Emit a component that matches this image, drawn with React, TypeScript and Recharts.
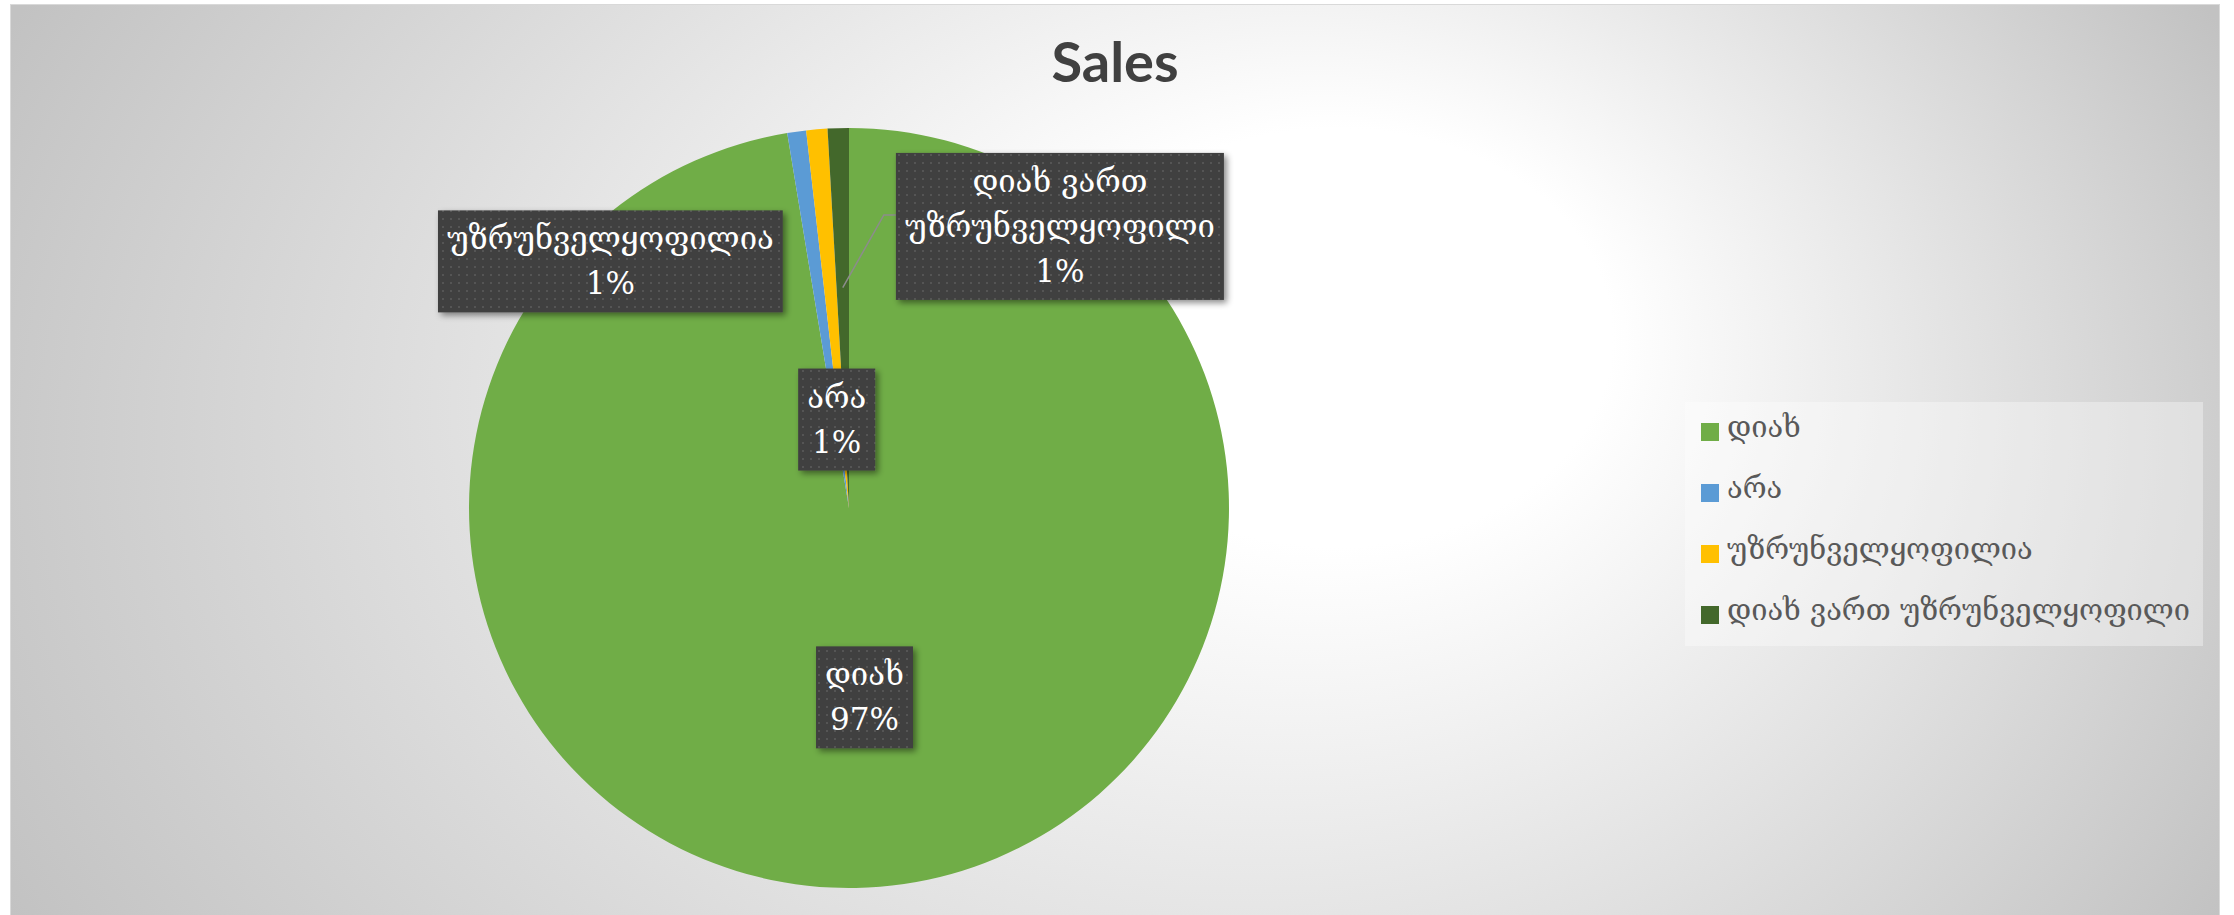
import React from 'react';
import { PieChart, Pie, Cell, Legend } from 'recharts';

// ---------- data ----------
const title = 'Sales';
const categories = ['დიახ', 'არა', 'უზრუნველყოფილია', 'დიახ ვართ უზრუნველყოფილი'];
const values = [97.4, 0.8, 0.9, 0.9];
const colors = ['#70AD47', '#5B9BD5', '#FFC000', '#43682B'];
// how the data labels wrap their category names
const labelLines = [['დიახ'], ['არა'], ['უზრუნველყოფილია'], ['დიახ ვართ', 'უზრუნველყოფილი']];

const data = categories.map((name, i) => ({ name, value: values[i] }));

// ---------- layout ----------
const W = 2234;
const H = 915;
const CX = 849;
const CY = 508;
const R = 380;

const LABEL_FONT_SIZE = 31;
const LABEL_FONT = `${LABEL_FONT_SIZE}px "DejaVu Serif"`;
const LINE_H = 45;
const PAD_X = 9;
const PAD_Y = 6;

// label placement, in units of the pie radius
const labelLayout: any[] = [
  { mode: 'radial', rho: 0.5 },
  { mode: 'radial', rho: 0.235 },
  { mode: 'free', dx: -0.628, dy: -0.649 },
  { mode: 'free', dx: 0.555, dy: -0.741, leader: true },
];

const RADIAN = Math.PI / 180;
let ctx: CanvasRenderingContext2D | null = null;
function measure(text: string, font: string) {
  if (!ctx) ctx = document.createElement('canvas').getContext('2d');
  if (!ctx) return text.length * 20;
  ctx.font = font;
  return ctx.measureText(text).width;
}

const renderLabel = (props: any) => {
  const { cx, cy, midAngle, outerRadius, index, percent } = props;
  const lay = labelLayout[index];
  const r = outerRadius;
  let bx: number;
  let by: number;
  if (lay.mode === 'radial') {
    bx = cx + lay.rho * r * Math.cos(-midAngle * RADIAN);
    by = cy + lay.rho * r * Math.sin(-midAngle * RADIAN);
  } else {
    bx = cx + lay.dx * r;
    by = cy + lay.dy * r;
  }
  const lines = [...labelLines[index], `${Math.round(percent * 100)}%`];
  const w = Math.max(...lines.map((l) => measure(l, LABEL_FONT))) + 2 * PAD_X;
  const h = lines.length * LINE_H + 2 * PAD_Y;
  const left = bx - w / 2;
  const top = by - h / 2;
  let leader = null;
  if (lay.leader) {
    const sx = cx + 0.58 * r * Math.cos(-midAngle * RADIAN);
    const sy = cy + 0.58 * r * Math.sin(-midAngle * RADIAN);
    const ey = top + 62;
    leader = (
      <polyline
        points={`${sx},${sy} ${left - 12},${ey} ${left},${ey}`}
        fill="none"
        stroke="#8c8c8c"
        strokeWidth={1.5}
      />
    );
  }
  return (
    <g key={`lbl-${index}`}>
      {leader}
      <rect x={left} y={top} width={w} height={h} fill="url(#dotTex)" filter="url(#lblShadow)" />
      {lines.map((ln, i) => (
        <text
          key={i}
          x={bx}
          y={top + PAD_Y + i * LINE_H + 33}
          textAnchor="middle"
          fill="#ffffff"
          fontSize={LABEL_FONT_SIZE}
          fontFamily='"DejaVu Serif", "DejaVu Sans", serif'
        >
          {ln}
        </text>
      ))}
    </g>
  );
};

const renderLegend = (props: any) => {
  const payload = [...(props.payload || [])].sort(
    (a: any, b: any) => categories.indexOf(a.value) - categories.indexOf(b.value)
  );
  return (
    <div style={{ width: '100%', height: '100%', boxSizing: 'border-box' }}>
      {payload.map((item: any, i: number) => (
        <div key={i} style={{ height: 61, position: 'relative' }}>
          <div style={{ position: 'absolute', left: 16, top: 21, width: 18, height: 18, background: item.color }} />
          <span
            style={{
              position: 'absolute',
              left: 42,
              top: 5,
              fontFamily: '"DejaVu Serif", "DejaVu Sans", serif',
              fontSize: 29,
              color: '#595959',
              whiteSpace: 'nowrap',
              lineHeight: '40px',
            }}
          >
            {item.value}
          </span>
        </div>
      ))}
    </div>
  );
};

export default function App() {
  return (
    <div style={{ position: 'absolute', left: 0, top: 0, width: W, height: H, overflow: 'hidden' }}>
      <svg width={W} height={H} style={{ position: 'absolute', left: 0, top: 0 }}>
        <defs>
          <radialGradient
            id="bgGrad"
            gradientUnits="userSpaceOnUse"
            cx={0}
            cy={0}
            r={1}
            fx={0.228}
            fy={-0.179}
            gradientTransform="translate(1115 470) scale(1250 950)"
          >
            <stop offset="0" stopColor="#ffffff" />
            <stop offset="0.22" stopColor="#ffffff" />
            <stop offset="1" stopColor="#c2c2c2" />
          </radialGradient>
          <pattern id="dotTex" width={8} height={8} patternUnits="userSpaceOnUse">
            <rect width={8} height={8} fill="#404040" />
            <rect x={2} y={2} width={2} height={2} fill="#545454" />
          </pattern>
          <filter id="lblShadow" x="-20%" y="-20%" width="140%" height="140%">
            <feDropShadow dx={3} dy={3} stdDeviation={3} floodColor="#000" floodOpacity={0.45} />
          </filter>
        </defs>
        <rect x={10.5} y={4.5} width={2209} height={920} fill="url(#bgGrad)" stroke="#d9d9d9" strokeWidth={1} />
        <text
          x={1115}
          y={82}
          textAnchor="middle"
          fontFamily="Lato, 'Open Sans', sans-serif"
          fontWeight="bold"
          fontSize={56}
          fill="#404040"
        >
          {title}
        </text>
      </svg>
      <div style={{ position: 'absolute', left: 0, top: 0 }}>
        <PieChart width={W} height={H} margin={{ top: 0, right: 0, bottom: 0, left: 0 }}>
          <Pie
            data={data}
            dataKey="value"
            nameKey="name"
            cx={CX}
            cy={CY}
            outerRadius={R}
            startAngle={90}
            endAngle={-270}
            stroke="none"
            isAnimationActive={false}
            labelLine={false}
            label={renderLabel}
          >
            {data.map((d, i) => (
              <Cell key={d.name} fill={colors[i]} />
            ))}
          </Pie>
          <Legend
            layout="vertical"
            align="right"
            verticalAlign="top"
            content={renderLegend}
            wrapperStyle={{
              left: 1685,
              top: 402,
              width: 518,
              height: 244,
              background: 'rgba(255,255,255,0.35)',
            }}
          />
        </PieChart>
      </div>
    </div>
  );
}
